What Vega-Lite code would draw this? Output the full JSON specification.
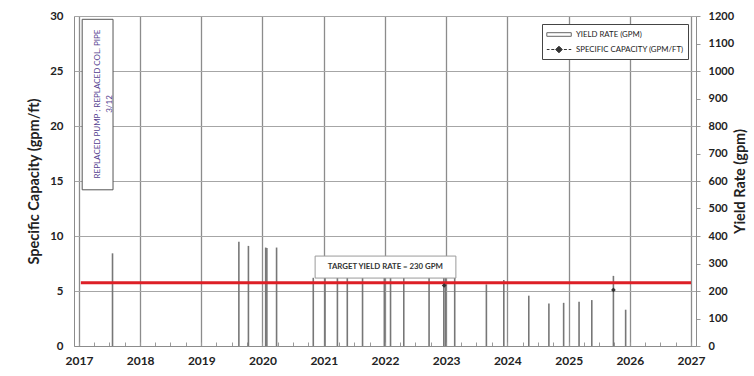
{
  "$schema": "https://vega.github.io/schema/vega-lite/v6.json",
  "width": 622,
  "height": 330,
  "autosize": {"type": "none"},
  "padding": {"left": 74, "top": 16, "right": 58, "bottom": 30},
  "background": "white",
  "config": {
    "view": {"stroke": null},
    "font": "Lato",
    "legend": {
      "orient": "top-right",
      "offset": 8,
      "strokeColor": "#444",
      "fillColor": "white",
      "padding": 4,
      "rowPadding": 4,
      "symbolSize": 144,
      "symbolStrokeWidth": 1,
      "symbolOpacity": 1,
      "labelFont": "Lato",
      "labelFontSize": 7.8,
      "labelOffset": 17,
      "labelColor": "#222",
      "labelLimit": 300
    }
  },
  "encoding": {
    "x": {
      "field": "date",
      "type": "temporal",
      "title": null,
      "scale": {
        "type": "utc",
        "domain": [
          {"year": 2017, "month": 1, "date": 1, "utc": true},
          {"year": 2027, "month": 1, "date": 1, "utc": true}
        ],
        "nice": false
      },
      "axis": {
        "title": null,
        "tickCount": {"interval": "month", "step": 3},
        "labelExpr": "utcmonth(datum.value) == 0 ? utcFormat(datum.value, '%Y') : ''",
        "grid": true,
        "gridColor": "#8c8c8c",
        "gridWidth": 1.3,
        "gridOpacity": {"condition": {"test": "utcmonth(datum.value) == 0", "value": 1}, "value": 0},
        "tickSize": -4,
        "tickColor": "#9a9a9a",
        "tickWidth": 1,
        "domainColor": "#8c8c8c",
        "domainWidth": 1.2,
        "labelFont": "Lato",
        "labelFontSize": 12,
        "labelFontWeight": "bold",
        "labelColor": "#222",
        "labelPadding": 13,
        "labelFlush": false,
        "labelOverlap": false
      }
    }
  },
  "layer": [
    {
      "encoding": {
        "y": {
          "field": "gpm",
          "type": "quantitative",
          "scale": {"domain": [0, 1200], "nice": false},
          "axis": {
            "orient": "right",
            "title": "Yield Rate (gpm)",
            "values": [0, 100, 200, 300, 400, 500, 600, 700, 800, 900, 1000, 1100, 1200],
            "format": "d",
            "grid": false,
            "tickSize": 4,
            "tickColor": "#999",
            "domainColor": "#8c8c8c",
            "labelFont": "Lato",
            "labelFontSize": 11,
            "labelFontWeight": "bold",
            "labelColor": "#222",
            "labelPadding": 8,
            "titleFont": "Lato",
            "titleFontSize": 14.5,
            "titleFontWeight": "bold",
            "titleColor": "#222",
            "titleAngle": 270,
            "titlePadding": 14
          }
        }
      },
      "layer": [
        {
          "data": {"values": [
            {"date": "2017-07-20", "gpm": 337},
            {"date": "2019-08-13", "gpm": 379},
            {"date": "2019-10-09", "gpm": 364},
            {"date": "2020-01-20", "gpm": 358},
            {"date": "2020-01-27", "gpm": 356},
            {"date": "2020-03-25", "gpm": 358},
            {"date": "2020-10-30", "gpm": 248},
            {"date": "2021-01-08", "gpm": 262},
            {"date": "2021-03-23", "gpm": 262},
            {"date": "2021-05-21", "gpm": 262},
            {"date": "2021-08-20", "gpm": 262},
            {"date": "2021-12-28", "gpm": 262},
            {"date": "2022-02-03", "gpm": 262},
            {"date": "2022-04-23", "gpm": 262},
            {"date": "2022-09-21", "gpm": 262},
            {"date": "2022-12-18", "gpm": 262},
            {"date": "2022-12-28", "gpm": 262},
            {"date": "2023-02-21", "gpm": 250},
            {"date": "2023-08-29", "gpm": 224},
            {"date": "2023-12-11", "gpm": 240},
            {"date": "2024-05-08", "gpm": 183},
            {"date": "2024-09-05", "gpm": 155},
            {"date": "2024-12-02", "gpm": 157},
            {"date": "2025-03-04", "gpm": 161},
            {"date": "2025-05-19", "gpm": 167},
            {"date": "2025-09-25", "gpm": 255},
            {"date": "2025-12-07", "gpm": 132}
          ]},
          "mark": {"type": "bar", "size": 1.6, "color": "#777777"}
        },
        {
          "data": {"values": [{"date": "2017-01-12", "date2": "2027-01-01", "gpm": 230}]},
          "mark": {"type": "rule", "color": "#dd1f26", "strokeWidth": 3},
          "encoding": {"x2": {"field": "date2"}}
        },
        {
          "data": {"values": [{"date": "2020-11-10", "date2": "2023-02-28", "gpm": 247, "gpm2": 327}]},
          "mark": {"type": "rect", "fill": "white", "stroke": "#9a9a9a", "strokeWidth": 1},
          "encoding": {"x2": {"field": "date2"}, "y2": {"field": "gpm2"}}
        },
        {
          "data": {"values": [{"date": "2022-01-03", "gpm": 287, "label": "TARGET YIELD RATE = 230 GPM"}]},
          "mark": {"type": "text", "font": "Lato", "fontSize": 7.8, "fontWeight": "bold", "color": "#333"},
          "encoding": {"text": {"field": "label"}}
        }
      ]
    },
    {
      "encoding": {
        "y": {
          "field": "sc",
          "type": "quantitative",
          "scale": {"domain": [0, 30], "nice": false},
          "axis": {
            "orient": "left",
            "title": "Specific Capacity (gpm/ft)",
            "values": [0, 5, 10, 15, 20, 25, 30],
            "grid": true,
            "gridColor": "#a6a6a6",
            "gridWidth": 1.1,
            "ticks": false,
            "domainColor": "#8c8c8c",
            "labelFont": "Lato",
            "labelFontSize": 11.5,
            "labelFontWeight": "bold",
            "labelColor": "#222",
            "labelPadding": 11,
            "titleFont": "Lato",
            "titleFontSize": 14.5,
            "titleFontWeight": "bold",
            "titleColor": "#222",
            "titlePadding": 8
          }
        }
      },
      "layer": [
        {
          "data": {"values": [{"date": "2017-01-20", "date2": "2017-07-23", "sc": 14.2, "sc2": 29.7}]},
          "mark": {"type": "rect", "fill": "white", "stroke": "#555", "strokeWidth": 1},
          "encoding": {"x2": {"field": "date2"}, "y2": {"field": "sc2"}}
        },
        {
          "data": {"values": [{"date": "2017-04-24", "sc": 22, "label": "REPLACED PUMP ; REPLACED COL. PIPE\n3/12"}]},
          "mark": {"type": "text", "angle": 270, "font": "Lato", "fontSize": 8, "lineHeight": 12, "lineBreak": "\n", "color": "#54408f", "align": "center", "baseline": "middle"},
          "encoding": {"text": {"field": "label"}}
        },
        {
          "data": {"values": [
            {"date": "2022-12-20", "sc": 5.5},
            {"date": "2025-09-25", "sc": 5.1}
          ]},
          "mark": {"type": "point", "shape": "diamond", "filled": true, "size": 22, "color": "#333", "opacity": 1}
        },
        {
          "data": {"values": [
            {"date": "2020-01-01", "sc": 0, "series": "YIELD RATE (GPM)"},
            {"date": "2020-01-01", "sc": 0, "series": "SPECIFIC CAPACITY (GPM/FT)"}
          ]},
          "mark": {"type": "point", "filled": true, "opacity": 0},
          "encoding": {
            "shape": {
              "field": "series",
              "type": "nominal",
              "scale": {
                "domain": ["YIELD RATE (GPM)", "SPECIFIC CAPACITY (GPM/FT)"],
                "range": [
                  "M-0.95,-0.3H3.13V0.3H-0.95Z",
                  "M-0.95,0H-0.5M-0.2,0H0.3M1.9,0H2.4M2.7,0H3.13M1.08,-0.55L1.63,0L1.08,0.55L0.53,0Z"
                ]
              },
              "legend": {"title": null}
            },
            "fill": {
              "field": "series",
              "type": "nominal",
              "scale": {"domain": ["YIELD RATE (GPM)", "SPECIFIC CAPACITY (GPM/FT)"], "range": ["white", "#333"]},
              "legend": {"title": null}
            },
            "stroke": {
              "field": "series",
              "type": "nominal",
              "scale": {"domain": ["YIELD RATE (GPM)", "SPECIFIC CAPACITY (GPM/FT)"], "range": ["#666", "#333"]},
              "legend": {"title": null}
            }
          }
        }
      ]
    }
  ],
  "resolve": {"scale": {"y": "independent"}}
}
